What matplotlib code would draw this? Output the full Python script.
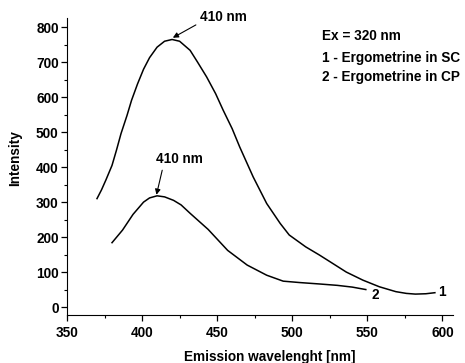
import matplotlib
matplotlib.use("Agg")
import matplotlib.pyplot as plt
from matplotlib.ticker import MultipleLocator

plt.rcParams["font.family"] = ["Liberation Sans", "DejaVu Sans"]
plt.rcParams["font.weight"] = "bold"

# curve 1 - Ergometrine in SC
wl_sc = [370, 373, 376, 380, 383, 386, 390, 393, 397, 401, 405, 410, 415, 420,
         425, 432, 437, 443, 449, 454, 460, 465, 474, 483, 492, 498, 509, 518,
         525, 536, 547, 558, 569, 576, 582, 589, 595]
int_sc = [310, 335, 364, 405, 449, 496, 548, 591, 638, 680, 713, 743, 760, 765,
          760, 734, 700, 658, 610, 563, 510, 458, 372, 296, 239, 206, 172, 149,
          130, 100, 77, 58, 44, 39, 37, 38, 41]

# curve 2 - Ergometrine in CP
wl_cp = [380, 387, 394, 401, 405, 410, 415, 421, 426, 432, 444, 457, 470, 483,
         494, 505, 518, 530, 540, 549]
int_cp = [184, 220, 265, 300, 312, 318, 315, 305, 292, 268, 222, 162, 120, 91,
          74, 70, 66, 62, 57, 50]

legend_lines = ["Ex = 320 nm", "1 - Ergometrine in SC", "2 - Ergometrine in CP"]

FS = 9.8

fig = plt.figure(figsize=(4.65, 3.63), dpi=100)
ax = fig.add_axes([0.144, 0.132, 0.830, 0.818])

ax.plot(wl_sc, int_sc, color="black", lw=1.1)
ax.plot(wl_cp, int_cp, color="black", lw=1.1)

ax.set_xlim(350, 607)
ax.set_ylim(-23, 826)
ax.xaxis.set_major_locator(MultipleLocator(50))
ax.xaxis.set_minor_locator(MultipleLocator(25))
ax.yaxis.set_major_locator(MultipleLocator(100))
ax.yaxis.set_minor_locator(MultipleLocator(50))
ax.tick_params(which="major", direction="out", length=4.5, width=0.9, labelsize=FS)
ax.tick_params(which="minor", direction="out", length=2.2, width=0.8)
ax.tick_params(axis="x", which="major", pad=3)
ax.tick_params(axis="y", which="major", pad=1.5)
for lab in ax.get_xticklabels() + ax.get_yticklabels():
    lab.set_fontweight("bold")
for side in ("top", "right"):
    ax.spines[side].set_visible(False)

ax.set_xlabel("Emission wavelenght [nm]", fontsize=FS, fontweight="bold")
ax.set_ylabel("Intensity", fontsize=FS, fontweight="bold")
ax.xaxis.set_label_coords(0.526, -0.118)
ax.yaxis.set_label_coords(-0.117, 0.53)

arrow = dict(arrowstyle="-|>", color="black", lw=0.8, mutation_scale=8,
             shrinkA=1, shrinkB=0)
ax.annotate("410 nm", xy=(420.5, 770), xytext=(438.5, 829), fontsize=FS,
            fontweight="bold", ha="left", va="center",
            arrowprops=dict(arrow, relpos=(0, 0.1)), annotation_clip=False)
ax.annotate("410 nm", xy=(409.6, 321), xytext=(425, 423), fontsize=FS,
            fontweight="bold", ha="center", va="center",
            arrowprops=dict(arrow, relpos=(0.15, 0)))

ys = [774, 713, 658]
for txt, y in zip(legend_lines, ys):
    ax.text(520, y, txt, fontsize=FS, fontweight="bold", ha="left", va="center")

ax.text(597, 44, "1", fontsize=FS, fontweight="bold", ha="left", va="center")
ax.text(553, 34, "2", fontsize=FS, fontweight="bold", ha="left", va="center")

fig.savefig("out.png", dpi=100)
